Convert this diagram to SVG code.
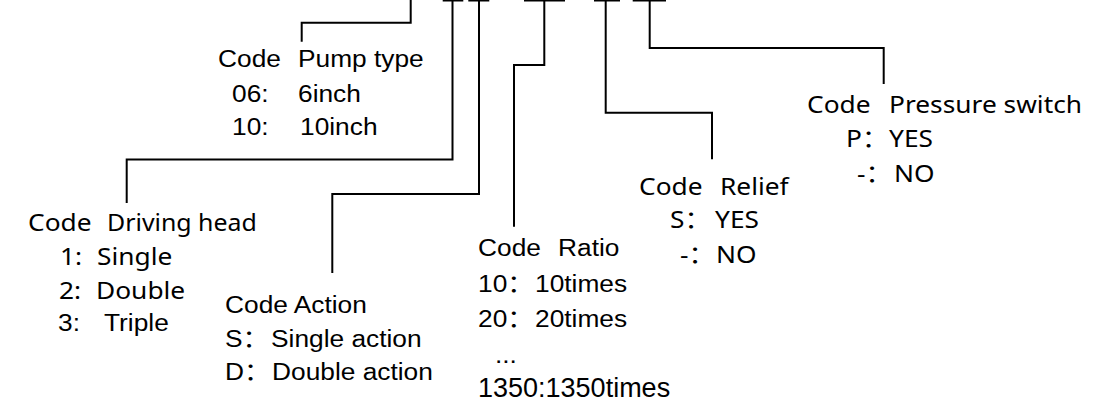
<svg xmlns="http://www.w3.org/2000/svg" width="1119" height="401" viewBox="0 0 1119 401">
<style>
.a{font-family:"Liberation Sans",Arial,"Noto Sans CJK SC",sans-serif;font-size:23.5px;fill:#000}
.y{font-family:"Noto Sans","Open Sans","Noto Sans CJK SC",sans-serif;font-size:23.5px;fill:#000}
.c{fill:none;stroke:#000;stroke-width:2}
</style>
<rect width="1119" height="401" fill="#fff"/>
<g id="connectors" class="c">
<path d="M442.7,0.5H463.3M468.3,0.5H489.3M524,0.5H565M594,0.5H620M632.7,0.5H666"/>
<path d="M410.7,0V22.7H301.7V41.7"/>
<path d="M452.5,0V159.5H126.7V203"/>
<path d="M479,0V194H332.3V273"/>
<path d="M544.3,0V65H514V226.7"/>
<path d="M605.7,0V112.7H712V159.3"/>
<path d="M649.7,0V48H883.7V84"/>
</g>
<g id="pump-type" class="a">
<text transform="translate(218,66.7) scale(1.12,1)">Code</text>
<text transform="translate(298,66.7) scale(1.12,1)">Pump type</text>
<text transform="translate(232,101.7) scale(1.12,1)">06:</text>
<text transform="translate(298,101.7) scale(1.12,1)">6inch</text>
<text transform="translate(232,135) scale(1.12,1)">10:</text>
<text transform="translate(300,135) scale(1.12,1)">10inch</text>
</g>
<g id="driving-head">
<text class="y" transform="translate(28,230.7) scale(1.12,1)">Code</text>
<text class="y" transform="translate(107,230.7) scale(1.06,1)">Driving head</text>
<text class="y" transform="translate(60,265) scale(1.12,1)">1:</text>
<text class="y" transform="translate(97,265) scale(1.12,1)">Single</text>
<text class="y" transform="translate(59,299) scale(1.12,1)">2:</text>
<text class="y" transform="translate(96,299) scale(1.12,1)">Double</text>
<text class="a" transform="translate(58,331) scale(1.12,1)">3:</text>
<text class="a" transform="translate(104,331) scale(1.12,1)">Triple</text>
</g>
<g id="action" class="a">
<text transform="translate(225,313) scale(1.12,1)">Code Action</text>
<text transform="translate(225,346.7) scale(1.12,1)">S：</text>
<text transform="translate(271,346.7) scale(1.12,1)">Single action</text>
<text transform="translate(225,380) scale(1.12,1)">D：</text>
<text transform="translate(272,380) scale(1.12,1)">Double action</text>
</g>
<g id="ratio" class="a">
<text transform="translate(478,256) scale(1.12,1)">Code</text>
<text transform="translate(558,256) scale(1.12,1)">Ratio</text>
<text transform="translate(478,291.7) scale(1.12,1)">10：</text>
<text transform="translate(535,291.7) scale(1.12,1)">10times</text>
<text transform="translate(478,326.7) scale(1.12,1)">20：</text>
<text transform="translate(535,326.7) scale(1.12,1)">20times</text>
<text transform="translate(495,363.3) scale(1.12,1)">...</text>
<text x="478" y="396.7" style="font-size:27px">1350:1350times</text>
</g>
<g id="relief" class="y">
<text transform="translate(639,195) scale(1.12,1)">Code</text>
<text transform="translate(720,195) scale(1.12,1)">Relief</text>
<text transform="translate(670,228.3) scale(1.12,1)">S：</text>
<text transform="translate(715,228.3) scale(1.12,1)">YES</text>
<text transform="translate(680,262.7) scale(1.12,1)">-：</text>
<text transform="translate(716,262.7) scale(1.12,1)">NO</text>
</g>
<g id="pressure-switch" class="y">
<text transform="translate(807,113.3) scale(1.12,1)">Code</text>
<text transform="translate(889,113.3) scale(1.12,1)">Pressure switch</text>
<text transform="translate(846,146.7) scale(1.12,1)">P：</text>
<text transform="translate(889,146.7) scale(1.12,1)">YES</text>
<text transform="translate(857,181.7) scale(1.12,1)">-：</text>
<text transform="translate(894,181.7) scale(1.12,1)">NO</text>
</g>
</svg>
